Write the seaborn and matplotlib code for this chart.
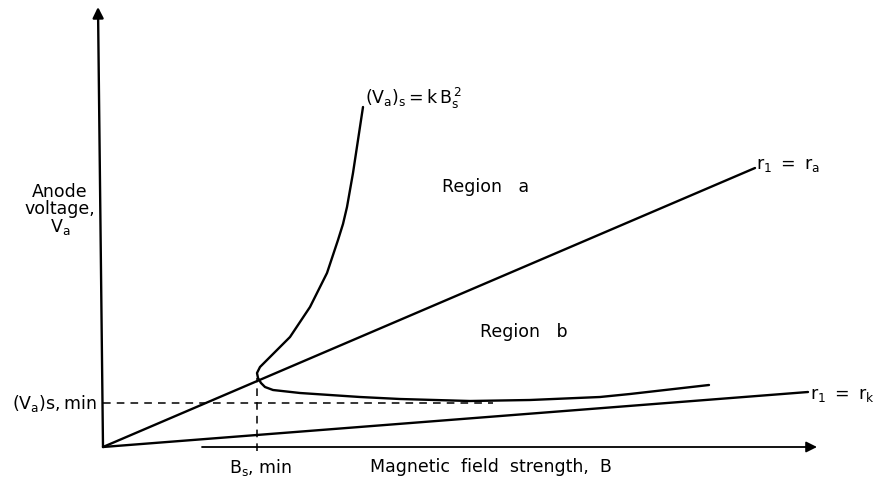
import matplotlib
matplotlib.use("Agg")
import matplotlib.pyplot as plt
import numpy as np
import pandas as pd
import seaborn as sns

# curve (V_a)_s = k B_s^2, traced from the upper branch down through the cusp
curve_b = [2.60, 2.55, 2.50, 2.44, 2.40, 2.35, 2.24, 2.07, 1.97, 1.87, 1.67, 1.57, 1.54, 1.55,
           1.58, 1.62, 1.70, 1.97, 2.27, 2.57, 2.97, 3.67, 4.27, 4.97, 5.27, 6.06]
curve_v = [3.40, 3.07, 2.74, 2.40, 2.23, 2.07, 1.74, 1.40, 1.25, 1.10, 0.90, 0.80, 0.74, 0.69,
           0.64, 0.60, 0.57, 0.54, 0.52, 0.50, 0.48, 0.46, 0.47, 0.50, 0.53, 0.62]

# straight lines from the origin
ra_b = [0.0, 6.52]
ra_v = [0.0, 2.79]
rk_b = [0.0, 7.05]
rk_v = [0.0, 0.55]

# minimum point
bs_min = 1.54
va_min = 0.44
va_cusp = 0.69

sns.set_style("white")
plt.rcParams["font.family"] = ["DejaVu Sans"]
plt.rcParams["mathtext.default"] = "regular"
plt.rcParams["text.color"] = "black"

fig = plt.figure(figsize=(8.74, 4.84), dpi=100)
ax = fig.add_axes([0, 0, 1, 1])
ax.set_xlim(-1.03, 7.71)
ax.set_ylim(-0.37, 4.47)
ax.axis("off")

lw = 1.7
sns.lineplot(x=curve_b, y=curve_v, sort=False, estimator=None, color="black", lw=lw, ax=ax)
sns.lineplot(x=ra_b, y=ra_v, estimator=None, color="black", lw=lw, ax=ax)
sns.lineplot(x=rk_b, y=rk_v, estimator=None, color="black", lw=lw, ax=ax)

# dashed guides
ax.plot([0, 3.9], [va_min, va_min], color="black", lw=1.1, ls=(0, (5, 4)))
ax.plot([bs_min, bs_min], [-0.04, va_cusp], color="black", lw=1.1, ls=(0, (5, 4)))

# axes with arrows
arrow = dict(arrowstyle="-|>", color="black", lw=1.7, mutation_scale=16, shrinkA=0, shrinkB=0)
ax.annotate("", xy=(-0.05, 4.40), xytext=(0, 0), arrowprops=arrow)
ax.annotate("", xy=(7.14, 0.0), xytext=(0.99, 0.0),
            arrowprops=dict(arrow, lw=1.3))

fs = 12.5
ax.text(2.62, 3.49, r"$(V_a)_s = k\,B_s^{\,2}$", fontsize=fs, va="center", ha="left")
ax.text(-0.43, 2.37, "Anode\nvoltage,\n$V_a$", fontsize=fs, va="center", ha="center",
        linespacing=0.95)
ax.text(-0.065, va_min, "$(V_a)s,min$", fontsize=fs, va="center", ha="right")
ax.text(bs_min - 0.28, -0.20, "$B_s$, min", fontsize=fs, va="center", ha="left")
ax.text(2.67, -0.20, "Magnetic  field  strength,  B", fontsize=fs, va="center", ha="left")
ax.text(3.39, 2.60, "Region   a", fontsize=fs, va="center", ha="left")
ax.text(3.77, 1.15, "Region   b", fontsize=fs, va="center", ha="left")
ax.text(6.53, 2.82, "$r_1\\ =\\ r_a$", fontsize=fs, va="center", ha="left")
ax.text(7.07, 0.52, "$r_1\\ =\\ r_k$", fontsize=fs, va="center", ha="left")

fig.savefig("out.png", dpi=100)
